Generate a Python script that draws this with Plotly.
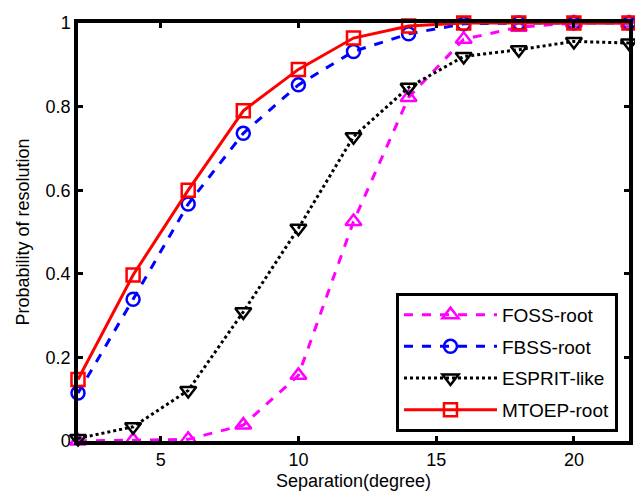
import plotly.graph_objects as go

separation = [2, 4, 6, 8, 10, 12, 14, 16, 18, 20, 22]
foss_root = [0.0, 0.002, 0.004, 0.038, 0.157, 0.525, 0.822, 0.961, 0.99, 1.0, 1.0]
fbss_root = [0.115, 0.339, 0.567, 0.736, 0.852, 0.932, 0.974, 0.998, 1.0, 1.0, 1.0]
esprit_like = [0.006, 0.034, 0.121, 0.309, 0.509, 0.728, 0.846, 0.92, 0.936, 0.956, 0.952]
mtoep_root = [0.147, 0.397, 0.600, 0.790, 0.889, 0.964, 0.993, 1.0, 1.0, 1.0, 1.0]

x_ticks = [5, 10, 15, 20]
y_ticks = [0, 0.2, 0.4, 0.6, 0.8, 1]
y_ticklabels = ["0", "0.2", "0.4", "0.6", "0.8", "1"]

FONT = "Liberation Sans, Arial, sans-serif"

series = [
    ("FOSS-root", foss_root, "#FF00FF", "dash", "triangle-up-open", 14),
    ("FBSS-root", fbss_root, "#0000FF", "dash", "circle-open", 13),
    ("ESPRIT-like", esprit_like, "#000000", "dot", "triangle-down-open", 14),
    ("MTOEP-root", mtoep_root, "#FF0000", "solid", "square-open", 13),
]

fig = go.Figure()
for name, vals, color, dash, symbol, msize in series:
    fig.add_trace(go.Scatter(
        x=separation, y=vals, name=name, legendgroup=name,
        mode="lines+markers",
        line=dict(color=color, width=3, dash=dash),
        marker=dict(symbol=symbol, size=msize, color=color,
                    line=dict(color=color, width=2.5)),
        cliponaxis=False,
    ))

axis_common = dict(
    showline=True, linecolor="black", linewidth=3.5, mirror="allticks",
    ticks="inside", ticklen=5, tickwidth=2.5, tickcolor="black",
    showgrid=False, zeroline=False,
    tickfont=dict(family=FONT, size=18, color="black"),
)

fig.update_xaxes(range=[2, 22], tickvals=x_ticks,
                 title=dict(text="Separation(degree)", standoff=6,
                            font=dict(family=FONT, size=18, color="black")),
                 **axis_common)
fig.update_yaxes(range=[0, 1], tickvals=y_ticks, ticktext=y_ticklabels,
                 title=dict(text="Probability of resolution", standoff=12,
                            font=dict(family=FONT, size=18, color="black")),
                 **axis_common)

fig.update_layout(
    width=635, height=491,
    margin=dict(l=78, r=2, t=23, b=50),
    plot_bgcolor="white", paper_bgcolor="white",
    font=dict(family=FONT, size=18, color="black"),
    showlegend=True,
    legend=dict(
        x=0.98, y=0.022, xanchor="right", yanchor="bottom",
        bgcolor="white", bordercolor="black", borderwidth=3,
        font=dict(family=FONT, size=19, color="black"),
        tracegroupgap=4, itemwidth=93,
    ),
)

fig.write_html("out.html")
